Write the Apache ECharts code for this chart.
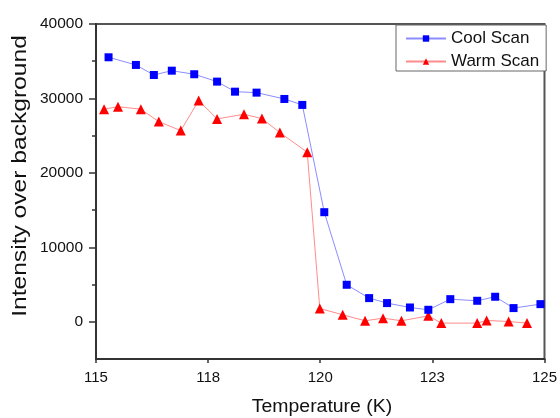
<!DOCTYPE html>
<html>
<head>
<meta charset="utf-8">
<script src="https://cdn.jsdelivr.net/npm/echarts@6/dist/echarts.min.js"></script>
<style>
  html, body { margin: 0; padding: 0; background: #fff; }
  #chart { width: 560px; height: 418px; }
</style>
</head>
<body>
<div id="chart"></div>
<script>
// cool scan (blue squares)
const coolT = [115.28, 115.89, 116.29, 116.69, 117.19, 117.70, 118.10, 118.58, 119.20, 119.60,
  120.09, 120.59, 121.09, 121.49, 122.00, 122.41, 122.90, 123.50, 123.90, 124.31, 124.91];
const coolI = [35530, 34500, 33150, 33730, 33250, 32260, 30910, 30780, 29930, 29130,
  14720, 4970, 3180, 2510, 1920, 1610, 3040, 2820, 3360, 1840, 2370];
// warm scan (red triangles)
const warmT = [115.18, 115.49, 116.00, 116.40, 116.89, 117.29, 117.70, 118.30, 118.70, 119.10,
  119.71, 119.99, 120.50, 121.00, 121.40, 121.81, 122.41, 122.70, 123.50, 123.71, 124.20, 124.61];
const warmI = [28550, 28900, 28550, 26890, 25680, 29710, 27250, 27880, 27290, 25410,
  22780, 1790, 940, 130, 490, 130, 800, -180, -180, 180, 40, -180];

const xTicks = [115, 117.5, 120, 122.5, 125];
const yTicks = [0, 10000, 20000, 30000, 40000];
const yMinor = [5000, 15000, 25000, 35000];

const FONT = "'Liberation Sans', Arial, sans-serif";

const chart = echarts.init(document.getElementById("chart"));
chart.setOption({
  animation: false,
  backgroundColor: "#fff",
  grid: {
    left: 96,
    right: 13,
    top: 24,
    bottom: 59,
    show: true,
    borderColor: "#555",
    borderWidth: 2,
  },
  legend: {
    orient: "vertical",
    left: 396,
    top: 25,
    padding: [5, 7, 1, 9],
    itemGap: 6,
    itemWidth: 40,
    itemHeight: 8,
    itemStyle: { borderWidth: 0 },
    borderColor: "#666",
    borderWidth: 1,
    backgroundColor: "#fff",
    textStyle: { fontFamily: FONT, fontSize: 17, color: "#111" },
    data: ["Cool Scan", "Warm Scan"],
  },
  xAxis: {
    type: "value",
    min: 115,
    max: 125,
    axisLine: { show: true, onZero: false, lineStyle: { color: "#333", width: 2 } },
    axisTick: { show: true, customValues: xTicks, length: 4, lineStyle: { color: "#333", width: 1.5 } },
    axisLabel: {
      customValues: xTicks,
      margin: 11,
      fontFamily: FONT,
      fontSize: 15,
      color: "#111",
      formatter: (v) => String(Math.round(v)),
    },
    splitLine: { show: false },
  },
  yAxis: [
    {
      type: "value",
      min: -5000,
      max: 40000,
      axisLine: { show: true, onZero: false, lineStyle: { color: "#333", width: 2 } },
      axisTick: { show: true, customValues: yTicks, length: 7, lineStyle: { color: "#333", width: 1.5 } },
      axisLabel: {
        customValues: yTicks,
        margin: 13,
        fontFamily: FONT,
        fontSize: 15.5,
        color: "#111",
        formatter: (v) => String(v),
      },
      splitLine: { show: false },
    },
    {
      type: "value",
      position: "left",
      min: -5000,
      max: 40000,
      axisLine: { show: false, onZero: false },
      axisTick: { show: true, customValues: yMinor, length: 4, lineStyle: { color: "#333", width: 1.5 } },
      axisLabel: { show: false },
      splitLine: { show: false },
    },
  ],
  graphic: [
    {
      type: "text",
      x: 20,
      y: 176,
      rotation: Math.PI / 2,
      scaleX: 1.23,
      style: {
        text: "Intensity over background",
        font: "20px " + FONT,
        fill: "#111",
        align: "center",
        verticalAlign: "middle",
      },
    },
    {
      type: "text",
      x: 322,
      y: 407,
      scaleX: 1.08,
      style: {
        text: "Temperature (K)",
        font: "18px " + FONT,
        fill: "#111",
        align: "center",
        verticalAlign: "middle",
      },
    },
  ],
  series: [
    {
      name: "Cool Scan",
      type: "line",
      symbol: "rect",
      symbolSize: 8,
      itemStyle: { color: "#0000ff" },
      lineStyle: { color: "#8c8cff", width: 1 },
      data: coolT.map((t, i) => [t, coolI[i]]),
      z: 3,
    },
    {
      name: "Warm Scan",
      type: "line",
      symbol: "triangle",
      symbolSize: 10,
      itemStyle: { color: "#ff0000" },
      lineStyle: { color: "#ff8c8c", width: 1 },
      data: warmT.map((t, i) => [t, warmI[i]]),
      z: 2,
    },
  ],
});
</script>
</body>
</html>
